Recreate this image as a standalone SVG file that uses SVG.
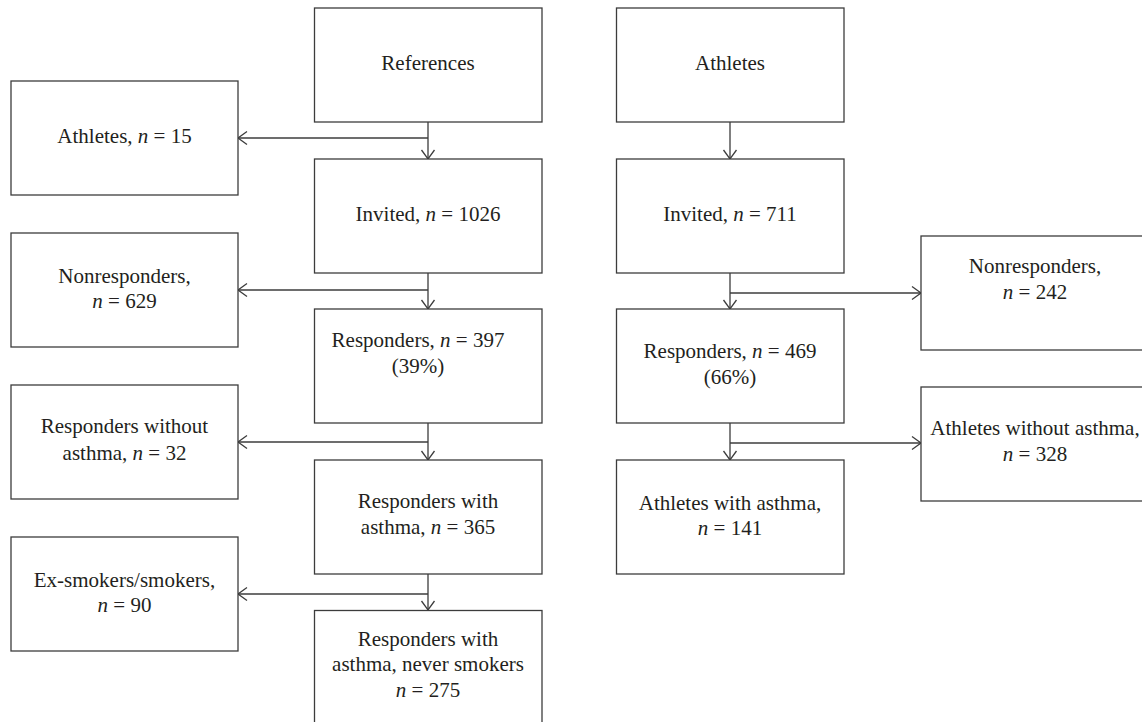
<svg xmlns="http://www.w3.org/2000/svg" width="1142" height="722" viewBox="0 0 1142 722">
<defs>
<style>
.box{fill:#fff;stroke:#3c3c3c;stroke-width:1.3}
.lbl{font-family:"Liberation Serif","Times New Roman",serif;font-size:21px;fill:#231f20;text-anchor:middle}
.it{font-style:italic}
.con{fill:none;stroke:#3c3c3c;stroke-width:1.3}
</style>
<marker id="arr" viewBox="-11 -8 13 16" markerWidth="13" markerHeight="16" refX="0" refY="0" orient="auto" markerUnits="userSpaceOnUse">
<path d="M-9,-6.5 L0,0 L-9,6.5" fill="none" stroke="#3c3c3c" stroke-width="1.3"/>
</marker>
</defs>
<rect width="1142" height="722" fill="#fff"/>

<g id="connectors">
<path class="con" d="M428,122 V159" marker-end="url(#arr)"/>
<path class="con" d="M428,138 H238" marker-end="url(#arr)"/>
<path class="con" d="M428,273 V309" marker-end="url(#arr)"/>
<path class="con" d="M428,290 H238" marker-end="url(#arr)"/>
<path class="con" d="M428,423 V460" marker-end="url(#arr)"/>
<path class="con" d="M428,442 H238" marker-end="url(#arr)"/>
<path class="con" d="M428,574 V610" marker-end="url(#arr)"/>
<path class="con" d="M428,594 H238" marker-end="url(#arr)"/>
<path class="con" d="M730,122 V159" marker-end="url(#arr)"/>
<path class="con" d="M730,273 V309" marker-end="url(#arr)"/>
<path class="con" d="M730,293 H921" marker-end="url(#arr)"/>
<path class="con" d="M730,423 V460" marker-end="url(#arr)"/>
<path class="con" d="M730,443 H921" marker-end="url(#arr)"/>
</g>

<g id="ref-references">
<rect class="box" x="314.5" y="8" width="227.5" height="114"/>
<text class="lbl" x="428" y="70">References</text>
</g>
<g id="ref-invited">
<rect class="box" x="314.5" y="159" width="227.5" height="114"/>
<text class="lbl" x="428" y="221">Invited, <tspan class="it">n</tspan> = 1026</text>
</g>
<g id="ref-responders">
<rect class="box" x="314.5" y="309" width="227.5" height="114"/>
<text class="lbl" x="418" y="347">Responders, <tspan class="it">n</tspan> = 397</text>
<text class="lbl" x="418" y="373">(39%)</text>
</g>
<g id="ref-asthma">
<rect class="box" x="314.5" y="460" width="227.5" height="114"/>
<text class="lbl" x="428" y="508">Responders with</text>
<text class="lbl" x="428" y="534">asthma, <tspan class="it">n</tspan> = 365</text>
</g>
<g id="ref-never-smokers">
<rect class="box" x="314.5" y="610.5" width="227.5" height="114"/>
<text class="lbl" x="428" y="646">Responders with</text>
<text class="lbl" x="428" y="671">asthma, never smokers</text>
<text class="lbl" x="428" y="697"><tspan class="it">n</tspan> = 275</text>
</g>

<g id="ex-athletes">
<rect class="box" x="11" y="81" width="227" height="114"/>
<text class="lbl" x="124.5" y="143"><tspan>Athletes, </tspan><tspan class="it">n</tspan> = 15</text>
</g>
<g id="ex-nonresponders">
<rect class="box" x="11" y="233" width="227" height="114"/>
<text class="lbl" x="124.5" y="283">Nonresponders,</text>
<text class="lbl" x="124.5" y="308"><tspan class="it">n</tspan> = 629</text>
</g>
<g id="ex-no-asthma">
<rect class="box" x="11" y="385" width="227" height="114"/>
<text class="lbl" x="124.5" y="433">Responders without</text>
<text class="lbl" x="124.5" y="460">asthma, <tspan class="it">n</tspan> = 32</text>
</g>
<g id="ex-smokers">
<rect class="box" x="11" y="537" width="227" height="114"/>
<text class="lbl" x="124.5" y="587">Ex-smokers/smokers,</text>
<text class="lbl" x="124.5" y="612"><tspan class="it">n</tspan> = 90</text>
</g>

<g id="ath-athletes">
<rect class="box" x="616.5" y="8" width="227.5" height="114"/>
<text class="lbl" x="730" y="70">Athletes</text>
</g>
<g id="ath-invited">
<rect class="box" x="616.5" y="159" width="227.5" height="114"/>
<text class="lbl" x="730" y="221">Invited, <tspan class="it">n</tspan> = 711</text>
</g>
<g id="ath-responders">
<rect class="box" x="616.5" y="309" width="227.5" height="114"/>
<text class="lbl" x="730" y="358">Responders, <tspan class="it">n</tspan> = 469</text>
<text class="lbl" x="730" y="384">(66%)</text>
</g>
<g id="ath-asthma">
<rect class="box" x="616.5" y="460" width="227.5" height="114"/>
<text class="lbl" x="730" y="510">Athletes with asthma,</text>
<text class="lbl" x="730" y="535"><tspan class="it">n</tspan> = 141</text>
</g>

<g id="ath-nonresponders">
<rect class="box" x="921" y="236" width="228" height="114"/>
<text class="lbl" x="1035" y="273">Nonresponders,</text>
<text class="lbl" x="1035" y="299"><tspan class="it">n</tspan> = 242</text>
</g>
<g id="ath-no-asthma">
<rect class="box" x="921" y="387" width="228" height="114"/>
<text class="lbl" x="1035" y="435">Athletes without asthma,</text>
<text class="lbl" x="1035" y="461"><tspan class="it">n</tspan> = 328</text>
</g>
</svg>
